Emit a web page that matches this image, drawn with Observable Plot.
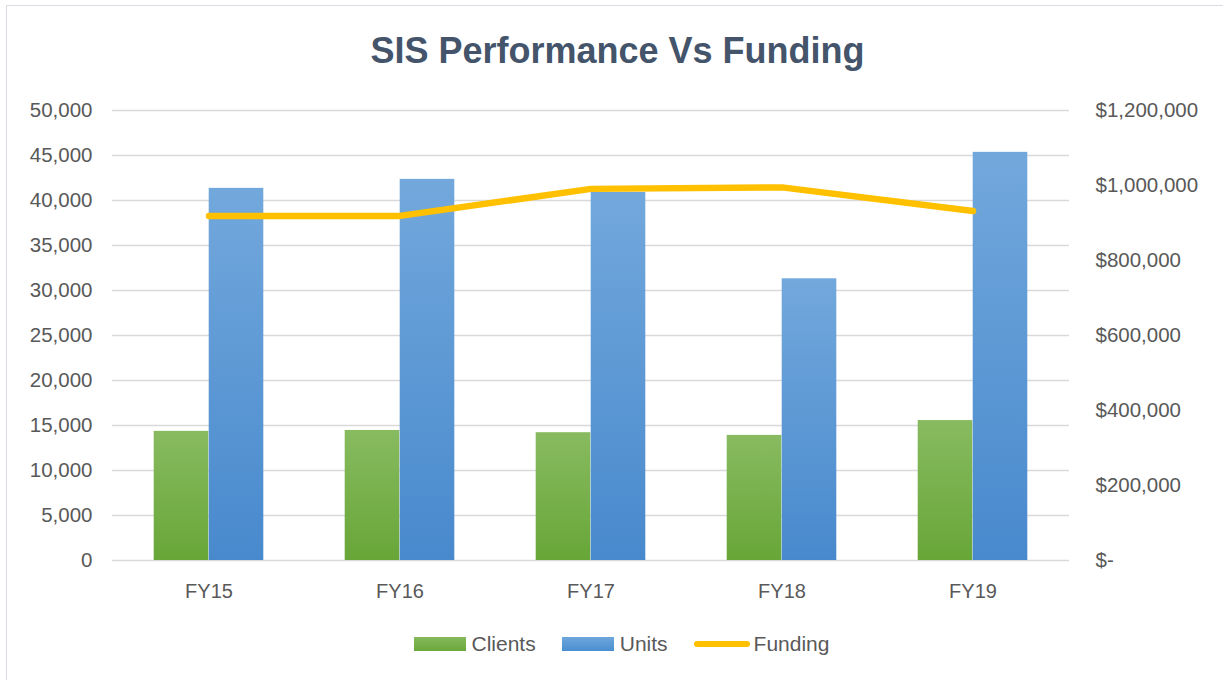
<!DOCTYPE html>
<html>
<head>
<meta charset="utf-8">
<script src="https://cdn.jsdelivr.net/npm/d3@7"></script>
<script src="https://cdn.jsdelivr.net/npm/@observablehq/plot@0.6"></script>
<style>
  body { margin: 0; background: #fff; font-family: "Liberation Sans", Arial, sans-serif; overflow: hidden; }
  #frame { position: absolute; left: 6px; top: 5px; width: 1240px; height: 700px; border: 1px solid #d9dde3; box-sizing: border-box; }
  #title { position: absolute; left: 0; top: 29px; width: 1235px; text-align: center; font-size: 36px; font-weight: bold; color: #44546a; line-height: 44px; }
  #chart { position: absolute; left: 0; top: 90px; }
  #legend { position: absolute; top: 632px; left: 0; width: 1243px; display: flex; justify-content: center; align-items: center; font-size: 21px; color: #595959; }
  .item { display: flex; align-items: center; margin: 0 13px; }
  .sw { width: 52px; height: 14px; margin-right: 6px; }
  .ln { width: 56px; height: 6px; border-radius: 3px; background: #ffc000; margin-right: 4px; }
</style>
</head>
<body>
<div id="frame"></div>
<div id="title">SIS Performance Vs Funding</div>
<div id="chart"></div>
<div id="legend">
  <div class="item"><div class="sw" style="background:linear-gradient(#85b95c,#6aa83b)"></div>Clients</div>
  <div class="item"><div class="sw" style="background:linear-gradient(#6fa6dc,#4a8fd0)"></div>Units</div>
  <div class="item"><div class="ln"></div>Funding</div>
</div>
<script>
const years = ["FY15", "FY16", "FY17", "FY18", "FY19"];
const clients = [14350, 14450, 14200, 13900, 15550];
const units = [41350, 42350, 40900, 31300, 45350];
const funding = [919000, 919000, 991000, 995000, 932000];
const leftTicks = [0, 5000, 10000, 15000, 20000, 25000, 30000, 35000, 40000, 45000, 50000];
const rightTicks = [0, 200000, 400000, 600000, 800000, 1000000, 1200000];

const data = years.map((y, i) => ({year: y, clients: clients[i], units: units[i], funding: funding[i]}));
const k = 50000 / 1200000;

const W = 1223, mL = 112, mR = 154;
const band = (W - mL - mR) / years.length;
const barW = 55;
const half = band / 2;

const fmtL = d3.format(",");
const fmtR = v => v === 0 ? "$-" : "$" + d3.format(",")(v);

const plot = Plot.plot({
  width: W,
  height: 520,
  marginLeft: mL,
  marginRight: mR,
  marginTop: 20,
  marginBottom: 50,
  style: { fontFamily: "Liberation Sans, Arial, sans-serif", fontSize: "20px", color: "#595959", background: "transparent" },
  x: { type: "band", domain: years, padding: 0, label: null },
  y: { domain: [0, 50000], label: null },
  marks: [
    Plot.gridY(leftTicks, { stroke: "#d9d9d9", strokeOpacity: 1, strokeWidth: 1.3 }),
    Plot.barY(data, { x: "year", y: "clients", fill: "url(#gGreen)", insetLeft: half - barW, insetRight: half }),
    Plot.barY(data, { x: "year", y: "units", fill: "url(#gBlue)", insetLeft: half, insetRight: half - barW }),
    Plot.line(data, { x: "year", y: d => d.funding * k, stroke: "#ffc000", strokeWidth: 6.5, strokeLinecap: "round", strokeLinejoin: "round" }),
    Plot.axisY(leftTicks, { anchor: "left", tickSize: 0, tickPadding: 20, tickFormat: fmtL, fill: "#595959", fontSize: 20.5 }),
    Plot.axisY(rightTicks.map(v => v * k), { anchor: "right", tickSize: 0, tickPadding: 26, tickFormat: d => fmtR(Math.round(d / k)), textAnchor: "start", fill: "#595959", fontSize: 20.5 }),
    Plot.axisX({ tickSize: 0, tickPadding: 23, fill: "#595959", fontSize: 20 })
  ]
});

const defs = d3.select(plot).insert("defs", ":first-child");
const g1 = defs.append("linearGradient").attr("id", "gGreen").attr("x1", 0).attr("y1", 0).attr("x2", 0).attr("y2", 1);
g1.append("stop").attr("offset", "0%").attr("stop-color", "#88bb60");
g1.append("stop").attr("offset", "100%").attr("stop-color", "#68a638");
const g2 = defs.append("linearGradient").attr("id", "gBlue").attr("x1", 0).attr("y1", 0).attr("x2", 0).attr("y2", 1);
g2.append("stop").attr("offset", "0%").attr("stop-color", "#72a8dc");
g2.append("stop").attr("offset", "100%").attr("stop-color", "#4889cd");

document.getElementById("chart").appendChild(plot);
</script>
</body>
</html>
